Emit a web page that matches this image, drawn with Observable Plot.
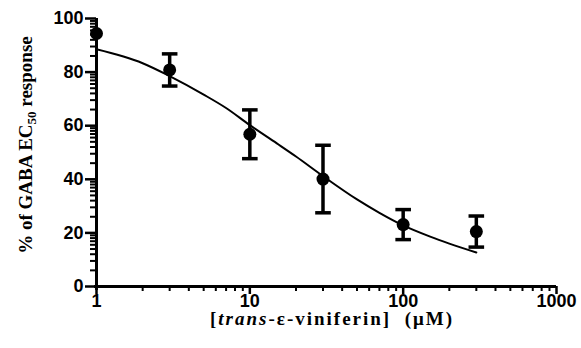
<!DOCTYPE html>
<html>
<head>
<meta charset="utf-8">
<script src="https://cdn.jsdelivr.net/npm/d3@7"></script>
<script src="https://cdn.jsdelivr.net/npm/@observablehq/plot@0.6"></script>
<style>
  html, body { margin: 0; padding: 0; background: #fff; }
  #chart svg { display: block; }
</style>
</head>
<body>
<div id="chart"></div>
<script>
// Measured data (concentration in µM, % of GABA EC50 response)
const conc = [1, 3, 10, 30, 100, 300];
const meanResp = [94.4, 80.8, 56.8, 40.1, 23.1, 20.5];
const errResp = [0, 6.0, 9.1, 12.6, 5.6, 5.8];

// Fitted curve
const fitConc = [1, 2, 3, 5, 7, 10, 15, 20, 30, 50, 70, 100, 150, 200, 300];
const fitResp = [88.5, 83.3, 78.5, 71.6, 66.6, 60.2, 53.4, 48.5, 41.2, 32.5, 27.5, 22.8, 18.6, 16.0, 12.7];

// Tick values
const xMajorTicks = [1, 10, 100, 1000];
const xMinorTicks = [2,3,4,5,6,7,8,9,20,30,40,50,60,70,80,90,200,300,400,500,600,700,800,900];
const yMajorTicks = [0, 20, 40, 60, 80, 100];
const yMinorSteps = [2, 3, 4, 5, 6, 7, 8, 9];
const yMinorTicks = yMajorTicks.slice(0, -1).flatMap(b => yMinorSteps.map(k => b + 20 * Math.log10(k)));

const points = conc.map((c, i) => ({c, m: meanResp[i], e: errResp[i], lo: meanResp[i] - errResp[i], hi: meanResp[i] + errResp[i]}));
const bars = points.filter(d => d.e > 0);
const fit = fitConc.map((c, i) => ({c, r: fitResp[i]}));

const capSymbol = {
  draw(ctx, size) {
    const w = Math.sqrt(size);
    ctx.moveTo(-w, 0);
    ctx.lineTo(w, 0);
  }
};

const tickFont = {fontSize: 18, fontWeight: "bold", fontFamily: "Liberation Sans, Arial, sans-serif"};

const plot = Plot.plot({
  width: 581,
  height: 348,
  marginLeft: 96,
  marginRight: 25,
  marginTop: 18,
  marginBottom: 62,
  x: {type: "log", domain: [1, 1000]},
  y: {domain: [0, 100]},
  marks: [
    Plot.axisX({ticks: xMinorTicks, tickSize: 5, strokeWidth: 2, text: null, label: null}),
    Plot.axisX({ticks: xMajorTicks, tickSize: 8, strokeWidth: 2.5, tickPadding: 0, tickFormat: d => String(d), label: null, ...tickFont}),
    Plot.axisY({ticks: yMinorTicks, tickSize: 6, strokeWidth: 2, text: null, label: null}),
    Plot.axisY({ticks: yMajorTicks, tickSize: 11, strokeWidth: 2.5, tickPadding: 2, label: null, ...tickFont}),
    Plot.ruleX([1], {y1: -1.5, y2: 100, strokeWidth: 3}),
    Plot.ruleY([0], {x1: 0.97, x2: 1000, strokeWidth: 3}),
    Plot.line(fit, {x: "c", y: "r", curve: "monotone-x", strokeWidth: 2}),
    Plot.ruleX(bars, {x: "c", y1: "lo", y2: "hi", strokeWidth: 3.5}),
    Plot.dot(bars, {x: "c", y: "hi", symbol: capSymbol, r: 4.4, stroke: "black", strokeWidth: 3.5}),
    Plot.dot(bars, {x: "c", y: "lo", symbol: capSymbol, r: 4.4, stroke: "black", strokeWidth: 3.5}),
    Plot.dot(points, {x: "c", y: "m", r: 6.5, fill: "black"})
  ]
});

const svg = d3.select(plot);
const serif = "Liberation Serif, Times New Roman, serif";

// Y axis title
const yt = svg.append("text")
  .attr("transform", "translate(32,145) rotate(-90)")
  .attr("text-anchor", "middle")
  .attr("font-family", serif)
  .attr("font-weight", "bold")
  .attr("font-size", 19)
  .attr("fill", "black");
yt.append("tspan").text("% of GABA EC");
yt.append("tspan").attr("font-size", 13).attr("dy", 4).text("50");
yt.append("tspan").attr("dy", -4).text(" response");

// X axis title
const xt = svg.append("text")
  .attr("x", 331)
  .attr("y", 325)
  .attr("text-anchor", "middle")
  .attr("font-family", serif)
  .attr("font-weight", "bold")
  .attr("font-size", 19)
  .attr("textLength", 242)
  .attr("lengthAdjust", "spacing")
  .attr("fill", "black");
xt.append("tspan").text("[");
xt.append("tspan").attr("font-style", "italic").text("trans");
xt.append("tspan").text("-ε-viniferin]  (μM)");

document.getElementById("chart").appendChild(plot);
</script>
</body>
</html>
